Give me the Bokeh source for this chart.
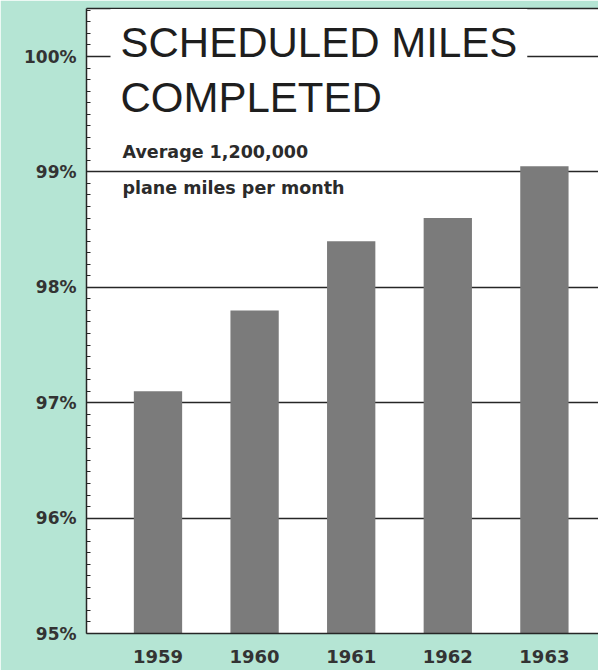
from bokeh.plotting import figure
from bokeh.models import (Range1d, LinearAxis, FixedTicker, SingleIntervalTicker,
                          PrintfTickFormatter, Label)
from bokeh.embed import file_html
from bokeh.resources import INLINE

# Share of scheduled plane miles actually flown, by year
years = [1959, 1960, 1961, 1962, 1963]
completed_pct = [97.1, 97.8, 98.4, 98.6, 99.05]
year_labels = {1959: "1959", 1960: "1960", 1961: "1961", 1962: "1962", 1963: "1963"}

MINT = "#b5e5d4"
INK = "#262626"
BAR = "#7b7b7b"
LABEL_FONT = "DejaVu Sans"

p = figure(width=598, height=670, output_backend="svg", toolbar_location=None,
           x_range=Range1d(1958.26, 1963.56), y_range=Range1d(95, 100.416),
           min_border_left=86, min_border_right=0, min_border_top=8, min_border_bottom=37,
           background_fill_color="white", border_fill_color=MINT,
           outline_line_color=None)

p.vbar(x=years, top=completed_pct, bottom=95, width=0.5,
       fill_color=BAR, line_color=None)

# Left percentage axis with tenth-of-a-percent minor ticks
yax = p.yaxis[0]
yax.ticker = SingleIntervalTicker(interval=1, num_minor_ticks=10)
yax.formatter = PrintfTickFormatter(format="%d%%")
yax.axis_line_color = INK
yax.axis_line_width = 1.5
yax.major_tick_line_color = None
yax.minor_tick_line_color = INK
yax.minor_tick_in = 4
yax.minor_tick_out = 0
yax.major_label_standoff = 4
yax.major_label_text_font = LABEL_FONT
yax.major_label_text_font_style = "bold"
yax.major_label_text_font_size = "17px"
yax.major_label_text_color = "#333333"

# Year axis along the bottom edge
xax = p.xaxis[0]
xax.ticker = FixedTicker(ticks=years)
xax.major_label_overrides = year_labels
xax.axis_line_color = INK
xax.axis_line_width = 1.5
xax.major_tick_line_color = None
xax.minor_tick_line_color = None
xax.major_label_standoff = 10
xax.major_label_text_font = LABEL_FONT
xax.major_label_text_font_style = "bold"
xax.major_label_text_font_size = "18px"
xax.major_label_text_color = "#333333"

# Plain rule along the top edge
top_rule = LinearAxis(ticker=FixedTicker(ticks=[]), axis_line_color=INK, axis_line_width=1.5,
                      major_tick_line_color=None, minor_tick_line_color=None)
p.add_layout(top_rule, "above")

p.xgrid.grid_line_color = None
p.ygrid.grid_line_color = INK
p.ygrid.grid_line_width = 1.5

# Heading; its white box interrupts the 100% rule
p.add_layout(Label(x=24, y=591, x_units="screen", y_units="screen",
                   text="SCHEDULED MILES", text_font="Liberation Sans",
                   text_font_size="42px", text_color="#1e1e1e", text_baseline="alphabetic",
                   background_fill_color="white", padding=10))
p.add_layout(Label(x=34, y=536, x_units="screen", y_units="screen",
                   text="COMPLETED", text_font="Liberation Sans",
                   text_font_size="42px", text_color="#1e1e1e", text_baseline="alphabetic"))
p.add_layout(Label(x=36, y=482, x_units="screen", y_units="screen",
                   text="Average 1,200,000", text_font=LABEL_FONT, text_font_style="bold",
                   text_font_size="17.5px", text_color="#2b2b2b", text_baseline="alphabetic"))
p.add_layout(Label(x=36, y=446, x_units="screen", y_units="screen",
                   text="plane miles per month", text_font=LABEL_FONT, text_font_style="bold",
                   text_font_size="17.5px", text_color="#2b2b2b", text_baseline="alphabetic"))

open("out.html", "w").write(file_html(p, INLINE))
